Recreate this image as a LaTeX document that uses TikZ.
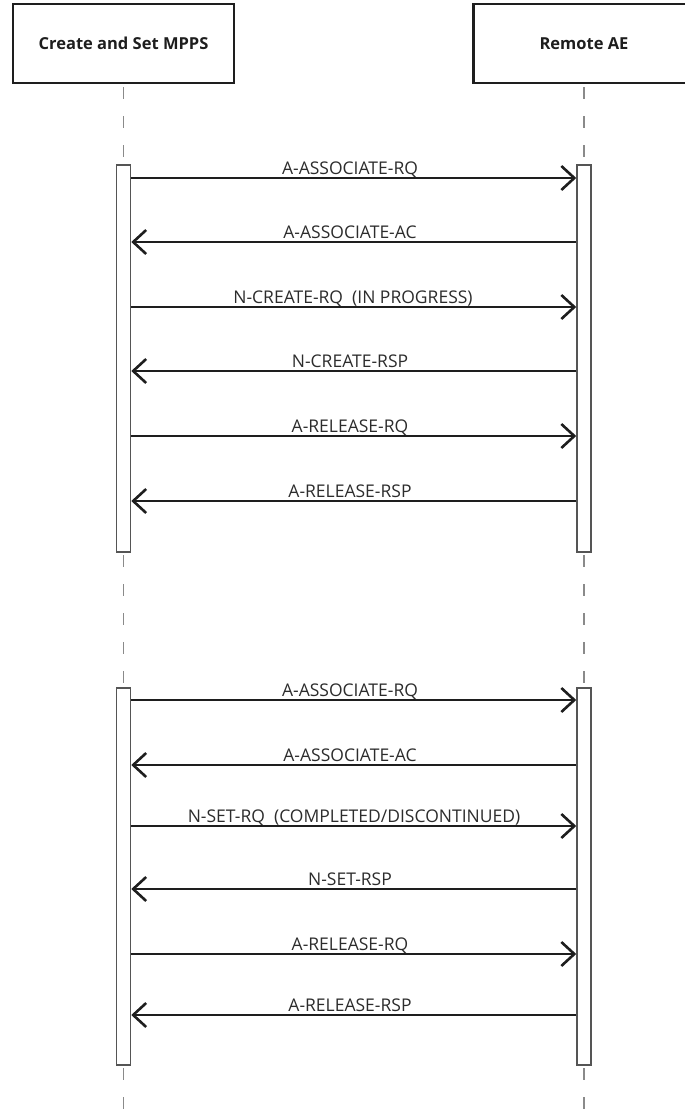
\documentclass[tikz,border=0pt]{standalone}
\usepackage{fontspec}
\setmainfont{Open Sans}
\usetikzlibrary{arrows.meta}
\definecolor{ink}{HTML}{1E1E1E}
\definecolor{txt}{HTML}{2C2C2C}
\definecolor{life}{HTML}{8A8A8A}
\definecolor{barline}{HTML}{555555}
\tikzset{
  actor/.style={draw=ink, line width=2.8pt, fill=white, minimum width=221pt, minimum height=79pt,
    inner sep=0pt, font=\bfseries\fontsize{16.5}{18}\selectfont, text=ink},
  activation/.style={draw=barline, line width=1.5pt, fill=white, minimum width=14pt, inner sep=0pt},
  lifeline/.style={draw=life, line width=1.5pt, dash pattern=on 12pt off 17pt, shorten <=3pt},
  msg/.style={draw=ink, line width=2.3pt, -{Straight Barb[length=13pt,width=24pt,line width=2.6pt]}},
  msglabel/.style={anchor=base, inner sep=0pt, text=txt, font=\fontsize{17.5}{19}\selectfont}
}
\begin{document}
\begin{tikzpicture}[x=1pt,y=-1pt]
\useasboundingbox (0,0) rectangle (685,1109);

% participants
\node[actor] (left)  at (123.5,43.5) {Create and Set MPPS};
\node[actor] (right) at (584,43.5) {Remote AE};

% lifelines, drawn first so the activation bars cover them
\coordinate (lA) at (123.5,165); \coordinate (lB) at (123.5,552);
\coordinate (lC) at (123.5,688); \coordinate (lD) at (123.5,1065);
\coordinate (lE) at (123.5,1109);
\coordinate (rA) at (584,165); \coordinate (rB) at (584,552);
\coordinate (rC) at (584,688); \coordinate (rD) at (584,1065);
\coordinate (rE) at (584,1109);
\draw[lifeline] (left.south) -- (lA);
\draw[lifeline] (lB) -- (lC);
\draw[lifeline] (lD) -- (lE);
\draw[lifeline] (right.south) -- (rA);
\draw[lifeline] (rB) -- (rC);
\draw[lifeline] (rD) -- (rE);

% activation bars
\node[activation, minimum height=387pt] (lbar1) at (123.5,358.5) {};
\node[activation, minimum height=387pt] (rbar1) at (584,358.5) {};
\node[activation, minimum height=377pt] (lbar2) at (123.5,876.5) {};
\node[activation, minimum height=377pt] (rbar2) at (584,876.5) {};

% first association: create
\draw[msg] (lbar1.east |- 0,178) -- (rbar1.west |- 0,178);
\node[msglabel] (t1) at (350,174) {A-ASSOCIATE-RQ};
\draw[msg] (rbar1.west |- 0,242) -- (lbar1.east |- 0,242);
\node[msglabel] (t2) at (350,238) {A-ASSOCIATE-AC};
\draw[msg] (lbar1.east |- 0,307) -- (rbar1.west |- 0,307);
\node[msglabel] (t3) at (353,303) {N-CREATE-RQ\ \ (IN PROGRESS)};
\draw[msg] (rbar1.west |- 0,371) -- (lbar1.east |- 0,371);
\node[msglabel] (t4) at (350,367) {N-CREATE-RSP};
\draw[msg] (lbar1.east |- 0,436) -- (rbar1.west |- 0,436);
\node[msglabel] (t5) at (350,432) {A-RELEASE-RQ};
\draw[msg] (rbar1.west |- 0,501) -- (lbar1.east |- 0,501);
\node[msglabel] (t6) at (350,497) {A-RELEASE-RSP};

% second association: set
\draw[msg] (lbar2.east |- 0,700) -- (rbar2.west |- 0,700);
\node[msglabel] (t7) at (350,696) {A-ASSOCIATE-RQ};
\draw[msg] (rbar2.west |- 0,765) -- (lbar2.east |- 0,765);
\node[msglabel] (t8) at (350,761) {A-ASSOCIATE-AC};
\draw[msg] (lbar2.east |- 0,826) -- (rbar2.west |- 0,826);
\node[msglabel] (t9) at (354,822) {N-SET-RQ\ \ (COMPLETED/DISCONTINUED)};
\draw[msg] (rbar2.west |- 0,889) -- (lbar2.east |- 0,889);
\node[msglabel] (t10) at (350,885) {N-SET-RSP};
\draw[msg] (lbar2.east |- 0,954) -- (rbar2.west |- 0,954);
\node[msglabel] (t11) at (350,950) {A-RELEASE-RQ};
\draw[msg] (rbar2.west |- 0,1015) -- (lbar2.east |- 0,1015);
\node[msglabel] (t12) at (350,1011) {A-RELEASE-RSP};
\end{tikzpicture}
\end{document}
